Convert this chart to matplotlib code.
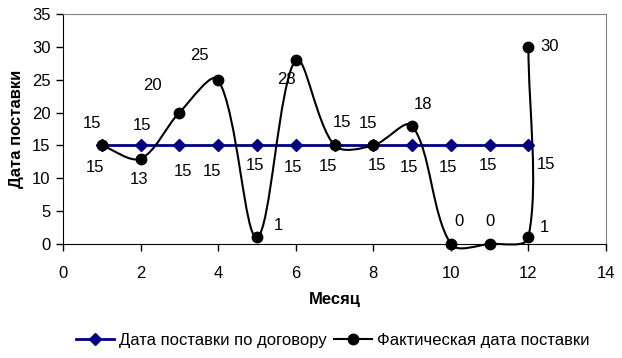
import numpy as np
import matplotlib.pyplot as plt
from matplotlib.path import Path
from matplotlib.patches import PathPatch
from matplotlib.lines import Line2D

plt.rcParams['font.family'] = ['Liberation Sans', 'DejaVu Sans']

# data
months = [1, 2, 3, 4, 5, 6, 7, 8, 9, 10, 11, 12]
contract_day = [15, 15, 15, 15, 15, 15, 15, 15, 15, 15, 15, 15]
actual_month = [1, 2, 3, 4, 5, 6, 7, 8, 9, 10, 11, 12, 12]
actual_day = [15, 13, 20, 25, 1, 28, 15, 15, 18, 0, 0, 1, 30]

contract_name = "Дата поставки по договору"
actual_name = "Фактическая дата поставки"
x_title = "Месяц"
y_title = "Дата поставки"

# label offsets in pixels (style only)
contract_offsets = [(-7, -22), (1, 20), (4, -26), (-6, -26), (-2, -20), (-3, -22),
                    (-6, -21), (4, -20), (-3, -22), (-3, -22), (-2, -20), (18, -19)]
actual_offsets = [(-10, 22), (-2, -21), (-27, 27), (-19, 24), (21, 12), (-9, -20),
                  (8, 23), (-5, 22), (11, 21), (8, 22), (0, 22), (16, 10), (21, 0)]

navy = '#000080'
fs = 12

fig = plt.figure(figsize=(6.22, 3.58), dpi=100)
ax = fig.add_axes([63 / 622, 114 / 358, 543 / 622, 230 / 358])
ax.set_xlim(0, 14)
ax.set_ylim(0, 35)


def excel_smooth(ax, xs, ys):
    # Excel-like smoothing: bezier with chord weighted tangents in screen space
    pts = ax.transData.transform(np.column_stack([xs, ys]))
    n = len(pts)
    verts = [pts[0]]
    codes = [Path.MOVETO]
    for i in range(n - 1):
        p1, p2 = pts[i], pts[i + 1]
        p0 = pts[i - 1] if i > 0 else p1
        p3 = pts[i + 2] if i + 2 < n else p2
        d01 = np.hypot(*(p1 - p0))
        d12 = np.hypot(*(p2 - p1))
        d23 = np.hypot(*(p3 - p2))
        c1 = p1 + (p2 - p0) / 3 * d12 / (d01 + d12)
        c2 = p2 - (p3 - p1) / 3 * d12 / (d12 + d23)
        verts += [c1, c2, p2]
        codes += [Path.CURVE4] * 3
    verts = ax.transData.inverted().transform(np.array(verts))
    return Path(verts, codes)


ax.plot(months, contract_day, color=navy, lw=2, marker='D', ms=6.5,
        mfc=navy, mec=navy, zorder=3)

path = excel_smooth(ax, actual_month, actual_day)
ax.add_patch(PathPatch(path, fill=False, ec='black', lw=1.5, zorder=4, clip_on=False))
ax.plot(actual_month, actual_day, ls='none', marker='o', ms=7.5, color='black',
        zorder=5, clip_on=False)

for x, y, off in zip(months, contract_day, contract_offsets):
    ax.annotate(str(y), (x, y), xytext=off, textcoords='offset pixels',
                ha='center', va='center', fontsize=fs)
for x, y, off in zip(actual_month, actual_day, actual_offsets):
    ax.annotate(str(y), (x, y), xytext=off, textcoords='offset pixels',
                ha='center', va='center', fontsize=fs)

ax.set_xticks(range(0, 15, 2))
ax.set_yticks(range(0, 36, 5))
ax.tick_params(direction='out', length=5, width=1, labelsize=fs, pad=11, axis='x')
ax.tick_params(direction='out', length=5, width=1, labelsize=fs, pad=4, axis='y')
for s in ['top', 'right']:
    ax.spines[s].set_color('#808080')
for s in ['left', 'bottom']:
    ax.spines[s].set_color('black')

ax.set_xlabel(x_title, fontsize=fs, fontweight='bold', labelpad=8)
ax.set_ylabel(y_title, fontsize=fs, fontweight='bold', labelpad=6)

handles = [Line2D([], [], color=navy, lw=2, marker='D', ms=6.5),
           Line2D([], [], color='black', lw=1.5, marker='o', ms=7.5)]
fig.legend(handles, [contract_name, actual_name], loc='center',
           bbox_to_anchor=(0.535, 0.05), ncol=2, frameon=False, fontsize=fs,
           handlelength=2.3, handletextpad=0.3, columnspacing=0.4)

fig.savefig('out.png', dpi=100)
